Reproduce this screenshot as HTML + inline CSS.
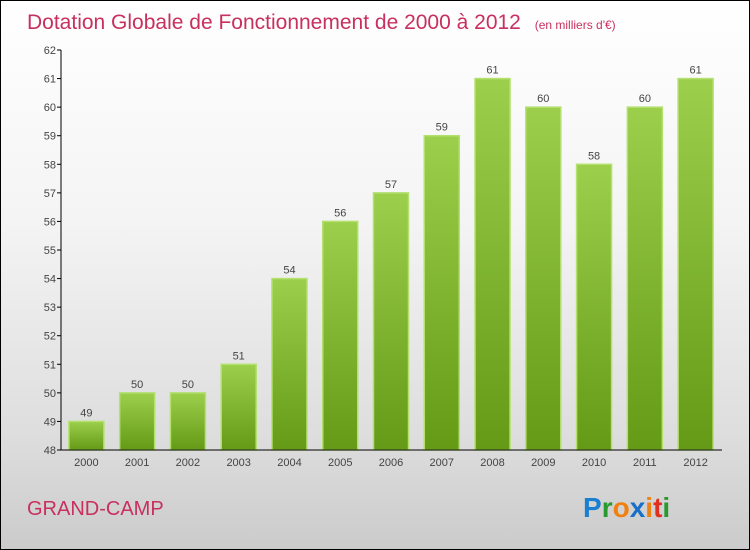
<!DOCTYPE html>
<html><head><meta charset="utf-8"><style>
body{margin:0}
#c{width:748px;height:548px;border:1px solid #000;background:linear-gradient(#fff,#f4f4f4 40%,#ddd 80%,#cbcbcb);position:relative;font-family:"Liberation Sans",sans-serif;overflow:hidden}
</style></head><body>
<div id="c">
<svg id="s" width="748" height="548">
<defs><linearGradient id="g" x1="0" y1="0" x2="0" y2="1"><stop offset="0" stop-color="#9ccf4c"/><stop offset="1" stop-color="#649a16"/></linearGradient></defs>
<text x="26" y="28" font-size="21" fill="#c8305f">Dotation Globale de Fonctionnement de 2000 à 2012 <tspan font-size="12" dx="8">(en milliers d'€)</tspan></text>
<text x="26" y="514" font-size="20" fill="#c8305f">GRAND-CAMP</text>
<g font-size="28" font-weight="bold" font-family="Liberation Sans, sans-serif">
<text x="582" y="516"><tspan fill="#1a7fd0">P</tspan><tspan fill="#2a9a30">r</tspan><tspan fill="#f08010">o</tspan><tspan fill="#1a6fc8">x</tspan><tspan fill="#f08010">i</tspan><tspan fill="#e03020">t</tspan><tspan fill="#2a9a30">i</tspan></text></g>
<g id="plot"></g>
</svg></div>
<script>
const categories=["2000","2001","2002","2003","2004","2005","2006","2007","2008","2009","2010","2011","2012"];
const values=[49,50,50,51,54,56,57,59,61,60,58,60,61];
const yTicks=[48,49,50,51,52,53,54,55,56,57,58,59,60,61,62];
const NS="http://www.w3.org/2000/svg";
const p=document.getElementById('plot');
const x0=60,x1=720,yb=449,yt=49,ymin=48,ymax=62;
const y=v=>yb-(v-ymin)/(ymax-ymin)*(yb-yt);
const step=(x1-x0)/categories.length;
const xc=i=>x0+step*(i+0.5);
function mk(t,a){const e=document.createElementNS(NS,t);for(const k in a)e.setAttribute(k,a[k]);p.appendChild(e);return e;}
yTicks.forEach(v=>{
 const l=mk('line',{x1:x0-4,x2:x0,y1:y(v),y2:y(v),stroke:'#000'});
 
 
 const t=mk('text',{x:x0-5,y:y(v)+4,'font-size':11,'text-anchor':'end',fill:'#444'});
 t.textContent=v;
 
 
});
categories.forEach((c,i)=>{
 const w=35;
 const r=mk('rect',{x:xc(i)-w/2,y:y(values[i]),width:w,height:yb-y(values[i]),fill:'url(#g)',stroke:'#b4e070','stroke-width':1.5});
 
 
 const v=mk('text',{x:xc(i),y:y(values[i])-5,'font-size':11,'text-anchor':'middle',fill:'#444'});
 v.textContent=values[i];
 
 
 const t=mk('text',{x:xc(i),y:yb+16,'font-size':11,'text-anchor':'middle',fill:'#444'});
 t.textContent=c;
 
 
});
const ya=mk('line',{x1:x0,x2:x0,y1:yt,y2:yb,stroke:'#000'});


const xa=mk('line',{x1:x0,x2:x1+1,y1:yb,y2:yb,stroke:'#000'});


</script>
</body></html>
